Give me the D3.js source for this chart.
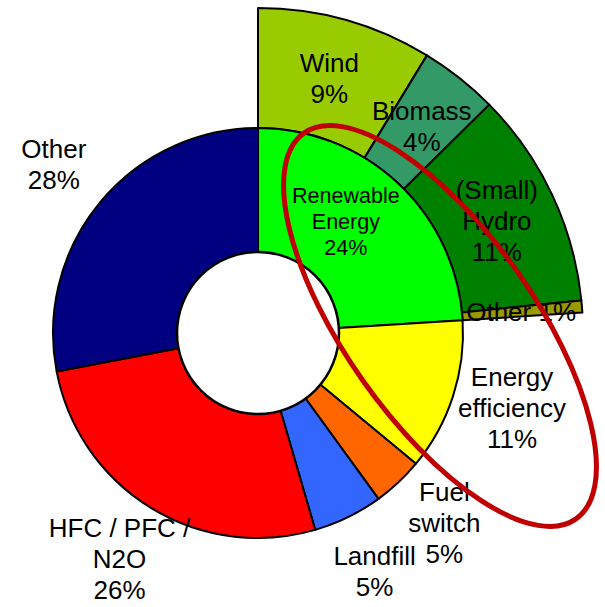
<!DOCTYPE html>
<html>
<head>
<meta charset="utf-8">
<script src="https://cdn.jsdelivr.net/npm/d3@7"></script>
<style>
  body { margin: 0; background: #fff; }
  text { font-family: "Liberation Sans", Arial, sans-serif; fill: #000; }
</style>
</head>
<body>
<svg id="chart" width="605" height="607"></svg>
<script>
// main donut
var categories = ["Renewable Energy", "Energy efficiency", "Fuel switch", "Landfill", "HFC / PFC / N2O", "Other"];
var values = [24, 12, 4, 5.5, 26.5, 28];
var labels = [["Renewable", "Energy", "24%"], ["Energy", "efficiency", "11%"], ["Fuel", "switch", "5%"],
              ["Landfill", "5%"], ["HFC / PFC /", "N2O", "26%"], ["Other", "28%"]];
var colors = ["#00ff00", "#ffff00", "#ff6600", "#3366ff", "#ff0000", "#000080"];

// breakdown of renewable energy
var sub_categories = ["Wind", "Biomass", "(Small) Hydro", "Other"];
var sub_values = [8.7, 3.9, 10.8, 0.6];
var sub_labels = [["Wind", "9%"], ["Biomass", "4%"], ["(Small)", "Hydro", "11%"], ["Other 1%"]];
var sub_colors = ["#99cc00", "#339966", "#008000", "#999900"];

var svg = d3.select("#chart");
var cx = 258, cy = 333;
var r_in = 81, r_out = 205, r_sub = 325;

// small hand nudges for labels that PowerPoint placed off the centroid
var nudge = {"Renewable Energy": [-10, -7], "Energy efficiency": [2, -7], "Fuel switch": [5, -3]};

var g = svg.append("g").attr("transform", "translate(" + cx + "," + cy + ")");

var total = d3.sum(values);
var sub_pie = d3.pie().sort(null).value(function(d){ return d; })
    .startAngle(0).endAngle(2 * Math.PI * values[0] / total);
var pie = d3.pie().sort(null).value(function(d){ return d; });

var sub_arc = d3.arc().innerRadius(r_out).outerRadius(r_sub);
var arc = d3.arc().innerRadius(0).outerRadius(r_out);

g.append("g").selectAll("path")
    .data(sub_pie(sub_values))
    .enter().append("path")
    .attr("d", sub_arc)
    .attr("fill", function(d, i){ return sub_colors[i]; })
    .attr("stroke", "#000")
    .attr("stroke-width", 2)
    .attr("stroke-linejoin", "round");

var arcs = pie(values);
g.append("g").selectAll("path")
    .data(arcs)
    .enter().append("path")
    .attr("d", arc)
    .attr("fill", function(d, i){ return colors[i]; })
    .attr("stroke", "#000")
    .attr("stroke-width", 2)
    .attr("stroke-linejoin", "round");

// hole
g.append("circle")
    .attr("r", r_in)
    .attr("fill", "#fff")
    .attr("stroke", "#000")
    .attr("stroke-width", 2.5);

function put_label(lines, pos, fs, lh, name){
    var n = nudge[name] || [0, 0];
    var t = g.append("text")
        .attr("text-anchor", "middle")
        .style("font-size", fs + "px");
    lines.forEach(function(s, i){
        t.append("tspan")
            .attr("x", pos[0] + n[0])
            .attr("y", pos[1] + n[1] + (i - (lines.length - 1) / 2) * lh + 0.35 * fs)
            .text(s);
    });
}

var label_arc = d3.arc().innerRadius(265).outerRadius(265);
var inner_label_arc = d3.arc().innerRadius(143).outerRadius(143);
arcs.forEach(function(d, i){
    if (i == 0) {
        put_label(labels[i], inner_label_arc.centroid(d), 21.5, 26, categories[i]);
    } else {
        put_label(labels[i], label_arc.centroid(d), 26, 31, categories[i]);
    }
});

var sub_label_arc = d3.arc().innerRadius(264).outerRadius(264);
sub_pie(sub_values).forEach(function(d, i){
    put_label(sub_labels[i], sub_label_arc.centroid(d), 26, 31, sub_categories[i]);
});

// highlight ellipse
svg.append("ellipse")
    .attr("transform", "translate(440,326) rotate(54.8)")
    .attr("rx", 236)
    .attr("ry", 94.5)
    .attr("fill", "none")
    .attr("stroke", "#c00000")
    .attr("stroke-width", 5);
</script>
</body>
</html>
